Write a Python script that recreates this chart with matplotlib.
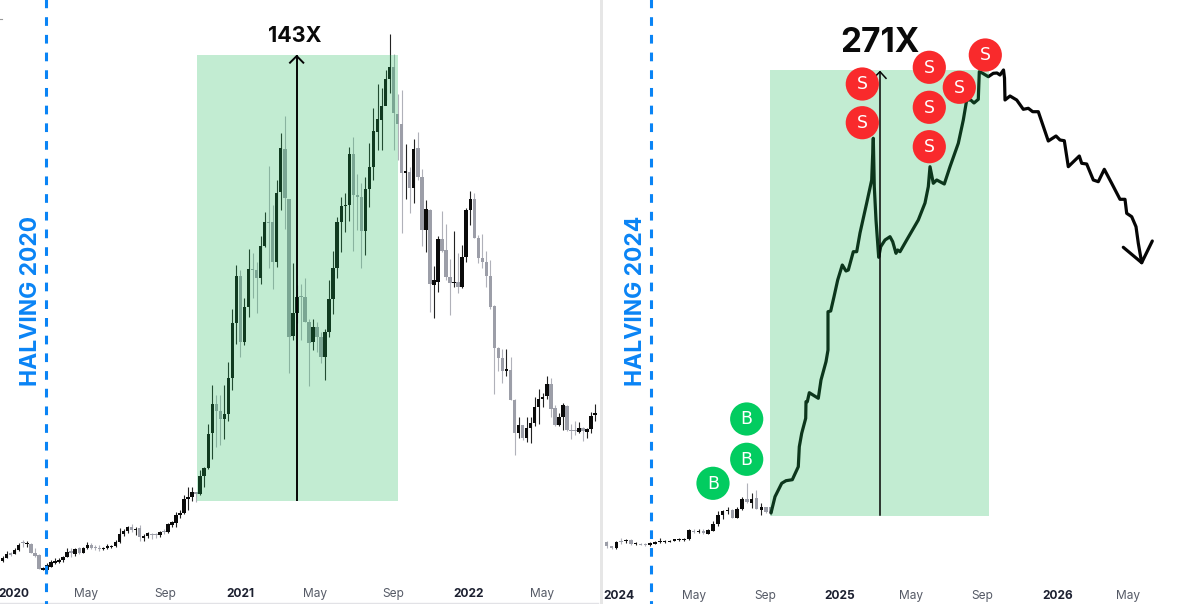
import matplotlib
matplotlib.use("Agg")
import matplotlib.pyplot as plt
from matplotlib.patches import Circle, Rectangle

# ---------- data (levels, rows from top = 0) ----------
left_high = [556,550.7,551.7,548.3,543.3,540,540.7,542.7,548.3,554,566.7,563.3,560,558.3,558.3,556,548.3,548.3,547.7,546.7,546.7,542.3,543.3,545,545,546.7,544.3,545,540,528.3,529.3,526,524,527.3,525,534,531.7,533.3,533.3,530.7,529.3,523.3,520.7,511.7,510,495,486.7,487.3,491.7,470,466.7,424.3,385,395,395,385,362.3,309,
265,270,298,249,252.7,261.7,236,211.7,166,205,180,133,115.7,199,263,285,284,278,319,319,321.7,331.7,329,280,250.7,216.7,196.7,192.7,146.7,137,174,183,176.7,143,108,84,88,70,34,54,94,90,144,166.7,139,132,169,200,209,265.7,236,211,224,259,231,253,245,208,191,193,235,234,250.7,260,305,
347,349,349,357,399,416.7,425,416.7,416.7,397,389,392.7,376,378,405,413,403,405,424,420.7,421.7,427,428,411.7,404]
left_low = [561.7,558.3,556,554,551,546.7,546.7,553.3,556.7,569.3,570,571.7,567.3,564,563.3,561.7,557.3,556.7,556,554,553.3,549,549.3,550,550.7,550,549,547.7,546.7,542.7,535.7,532.7,531.7,535,540.7,540.7,538.3,539.3,538.3,536.7,534,532.7,526.7,526.7,518.3,514,510,500.7,502,495,486.7,469.3,459.3,446.7,445,439.3,421,390,
344,357,345,316.7,298,312.7,284,246.7,268,289,266.7,210,229,373,340,323,340,322,386,350,351.7,363,380,337,314,277.7,251.7,231.7,220.7,250.7,230,267.7,255,206.7,180,150,150,100,93,150,160,232.7,199,212.7,203,180,246,251.7,311.7,318,291.7,252,280,315,286.7,292.7,288,261.7,225,238,263,268,286.7,309,394,
371,382.7,376,400,455,438,440,441.7,442.7,426,424,406.7,399,416.7,426,426,430,430.7,438.7,435,432.7,441,438,432.7,420.7]
left_top = [557.7,553.7,552.7,549.7,544.7,541.7,542.7,544,552.7,555.3,568.3,565,562,560.7,559.7,557,551.7,551.3,549,548.3,548.3,545,545,546.7,547.7,548,545.7,545.7,541.7,534.3,530.7,527.3,527.3,529,527.7,536,533.3,534,534,532,530.7,524.3,522.3,514.7,513,499,497,492,492,475.7,467.7,434,404.3,404.3,410.7,414.3,378,322.7,
276,276,306.7,269,269,270,245.7,221.7,221.7,222,193.3,148,149,199,313,296.7,295.7,296.7,321.7,326.7,326.7,336.7,332,299,267.7,222,206,205,154,154,195,196.7,189,167,130.7,119,106,78.7,66.7,66.7,114,124,170.7,171.7,149,148,177,209,210,280,239,239,250,276.7,282,282,256.7,210,199.3,199,237.7,258,261.7,276,306,
347.7,357.7,369,370,400,425,425,427.7,423.3,406.7,399,397,384.3,384.3,408,417,405,406,430,430,428.3,427.7,429,416,413.3]
left_bottom = [561.3,557.7,555,553.7,550.3,543.3,544,552.7,556,568.7,569.3,570,566.7,562.7,562,560,556.7,553.3,554,552.7,552.7,547.7,547.7,548.3,548.7,549,548,546.7,546,541.7,534.3,530.7,530,530,537.3,538.3,536,535.3,535,535.3,532,531.7,525,523.3,515.3,512.7,498.7,496.7,494,494,475.7,467.7,433.3,410.7,419,419.3,414.3,378,
322.7,341.7,341.7,306.7,270,277.7,277.7,245.7,222.5,262,262,192,198,336.7,336,313,297,321.7,342.7,341.7,336.7,356.7,356.7,332,299,267.7,222.3,205.7,205,195,196.7,230.7,230.7,189,167.3,131.7,120,106,78.7,112.7,124,172.7,172.7,188,188,177,230,230,284,285,281.7,251,276.7,283,283,286.7,286.7,256.7,210,238,257.7,261.7,276,306.7,347.7,
357.7,371,370.7,400,432.7,432.7,438,438,428.3,423.3,406.7,399,396,409,425,425,417,430,431,431,432,431,431.7,429,415.3]
left_down = [2,5,7,8,9,17,19,22,23,24,32,34,37,38,40,48,53,54,59,62,63,66,67,70,71,74,75,76,78,79,87,88,89,97,98,99,101,103,104,106,109,110,111,113,117,118,119,120,121,122,123,124,126,127,129,136,137,140,141,142,144]

right_high = [541,546,540.7,538.3,539,539.3,542.3,543,543.3,541.7,541.3,538.3,540.3,540,538.7,538.3,538,528.7,528.7,529.3,529.3,529.3,520.7,510.7,510,506.7,509.3,506.7,496.7,482.7,493.3,490,503.3,506.7,506]
right_low = [547.7,548.5,548.7,544,542.7,544.7,544.7,545.3,546,546,543.7,543,542.7,542.3,541,540.7,540.7,539.7,533.3,533.3,534,534.3,531.3,525.7,519.3,514,518,517.7,510,503.3,508.3,509.3,515.3,513.3,515]
right_top = [542,546,542,540.7,540,540.3,543,543.7,544,543.3,542.3,541,541,540.7,539.3,539,538.7,530.3,530.7,530.7,531,530.3,524,514.7,511.3,510,509.7,509.3,499.3,498.7,498.7,498.3,506.7,506.7,506.7]
right_bottom = [545.7,548.3,548.3,541.7,541.3,544,544,544.3,544.7,545.3,543,542,542,541.7,540.3,540,539.7,539.3,531.7,531.7,533.3,533.7,531,524.3,514.7,511.3,518,517.7,509.3,502,502.7,509,510,511.7,512.7]
right_down = [0,1,3,5,7,8,18,20,26,29,31,33,34]

left_ticks = [2.7,20.7,40.3,58.9,77.5,96.9,115.5,133.9]
left_tick_labels = ["2020","May","Sep","2021","May","Sep","2022","May"]
right_ticks = [2.5,18.1,32.8,48.3,63.0,77.7,93.4,107.9]
right_tick_labels = ["2024","May","Sep","2025","May","Sep","2026","May"]

projection_x = [771,775,781.7,786,792.3,798.3,799.3,801.7,805.7,806,807.3,809.3,818.3,821,826,828,828,830.7,834,837.7,842.3,846,848.3,853.3,856.7,860,866.7,871.7,873.3,874.3,876,878.7,880.7,885,890,892.7,896,897.7,900,906.7,918.3,925,928.3,930,933.3,936.7,944.3,950,958.3,963.3,966.7,970.7,974,978.3,979.3,981.7,988.3,993.3,997,1000,1003.5,1004.5,1005,1010,1016.7,1023.3,1028.3,1032.7,1038.3,1048.3,1056,1060,1064.3,1068.3,1079.3,1081.7,1086.7,1093.3,1098.3,1104.3,1111.7,1120,1125,1126.7,1131.7,1136,1138.3,1141.7,1152.3]
projection_y = [513,496.7,483.3,480.7,479.7,466.7,446.7,433.3,418.3,401.7,401.7,392.7,398.3,380,361.7,350,311.7,311,296.7,280,265,271,270,251.7,251.7,233,203,180,138.3,186.7,220,257.3,246.7,240,236.7,241.7,253.3,250,251.7,240,220,203,186.7,166.7,183.3,180,184,166.7,143.3,120,100,100,103,99.3,71.7,72.7,76.7,73.3,73,75,70,78,100,96,100,109.3,108.3,111.7,111.7,141,136,140,140.7,166.7,156,163.3,164,180,181.7,169.3,183.3,199.3,199.3,213.3,216.7,226.7,243.3,262.7,241]
head_x = [1123.3,1141.7]
head_y = [247.3,262.7]

sell_x = [862.3,862.3,929.3,929.3,929.3,959.3,985.3]
sell_y = [84,122.7,67.3,107.3,146.7,87.3,55]
buy_x = [746.7,746.7,713]
buy_y = [419,459.3,483.3]

BLACK, GRAY, BLUE = "#0a0a0a", "#9c9ea8", "#0a84f5"
plt.rcParams["lines.scale_dashes"] = False
plt.rcParams["font.family"] = ["Inter", "DejaVu Sans"]

W, H, AX_H = 1200, 604, 580
fig = plt.figure(figsize=(12, 6.04), dpi=100, facecolor="white")


def candles(ax, high, low, top, bottom, down, width):
    for i, (h, l, t, b) in enumerate(zip(high, low, top, bottom)):
        c = GRAY if i in down else BLACK
        ax.vlines(i, h, l, color=c, lw=0.8, alpha=0.8 if i in down else 0.9)
        ax.bar(i, max(b - t, 1.2), bottom=t, width=width, color=c, lw=0)


def panel(rect, xlim, high, low, top, bottom, down, width, ticks, labels, pad):
    x0, x1 = rect
    ax = fig.add_axes([x0 / W, (H - AX_H) / H, (x1 - x0) / W, AX_H / H], zorder=1)
    ax.set_facecolor("none")
    candles(ax, high, low, top, bottom, down, width)
    ax.set_xlim(*xlim)
    ax.set_ylim(AX_H, 0)
    ax.set_yticks([])
    ax.set_xticks(ticks)
    ax.set_xticklabels(labels)
    ax.tick_params(axis="x", length=0, pad=pad)
    for lab in ax.get_xticklabels():
        year = lab.get_text().isdigit()
        lab.set_fontsize(8.6)
        lab.set_fontweight("bold" if year else "normal")
        lab.set_color("#1c2030" if year else "#555a66")
    for s in ax.spines.values():
        s.set_visible(False)
    return ax


panel((0, 600), (-0.66, 148.2), left_high, left_low, left_top, left_bottom, left_down, 0.85,
      left_ticks, left_tick_labels, 6.0)
panel((603, 1200), (-0.77, 122.8), right_high, right_low, right_top, right_bottom, right_down, 0.72,
      right_ticks, right_tick_labels, 7.0)

ov = fig.add_axes([0, 0, 1, 1], zorder=2)
ov.set_facecolor("none")
ov.set_xlim(0, W)
ov.set_ylim(H, 0)
ov.axis("off")

# divider / edges
ov.add_patch(Rectangle((599.6, 0), 3.2, H, fc="#e6e6e6", ec="none", zorder=0))
ov.plot([0, 598], [603.2, 603.2], color="#e2e2e6", lw=1, zorder=0)
ov.plot([0, 1.5], [19, 19], color="#999999", lw=0.8, zorder=0)

# hand-drawn projection (under the green overlay)
ov.plot(projection_x, projection_y, color="#050505", lw=2.3, solid_joinstyle="round",
        solid_capstyle="round", zorder=1)
ov.plot(head_x, head_y, color="#050505", lw=2.3, solid_capstyle="round", zorder=1)

# green ranges
GREEN = (0.13, 0.737, 0.36)
ov.add_patch(Rectangle((197, 55), 201, 445.5, fc=GREEN, alpha=0.27, ec="none", zorder=2))
ov.add_patch(Rectangle((769.5, 70), 219.5, 445.5, fc=GREEN, alpha=0.27, ec="none", zorder=2))

# vertical measure arrows
ov.plot([296.7, 296.7], [500, 56], color="#050505", lw=1.4, zorder=3)
ov.plot([290, 296.7, 303.3], [62.7, 56, 62.7], color="#050505", lw=1.4, zorder=3)
ov.plot([879.5, 879.5], [515, 71.7], color="#050505", lw=1.1, zorder=3)
ov.plot([873.3, 880, 886], [78.3, 71.7, 78.3], color="#050505", lw=1.1, zorder=3)

# halving lines
for x in (46.3, 651.3):
    ov.plot([x, x], [-4.3, H], color=BLUE, lw=2.2, linestyle=(0, (6.26, 6.48)),
            dash_capstyle="butt", zorder=3)

ov.text(31.5, 385.5, "HALVING 2020", rotation=90, color=BLUE, fontsize=16.5, fontweight="bold",
        ha="center", va="bottom", zorder=5)
ov.text(636.5, 385.5, "HALVING 2024", rotation=90, color=BLUE, fontsize=16.5, fontweight="bold",
        ha="center", va="bottom", zorder=5)
ov.text(295, 36, "143X", color="#0a0a0a", fontsize=15.5, fontweight="bold", ha="center",
        va="center", zorder=5)
ov.text(880, 43, "271X", color="#0a0a0a", fontsize=24, fontweight="bold", ha="center",
        va="center", zorder=5)

# signals
for xs, ys, col, letter in ((sell_x, sell_y, "#f92a2c", "S"), (buy_x, buy_y, "#02cc60", "B")):
    for x, y in zip(xs, ys):
        ov.add_patch(Circle((x, y), 16.6, fc=col, ec="none", zorder=4))
        ov.text(x, y + 0.4, letter, color="white", fontsize=12.5, family="DejaVu Sans", ha="center",
                va="center", zorder=5)

fig.savefig("out.png", dpi=100, facecolor="white")
